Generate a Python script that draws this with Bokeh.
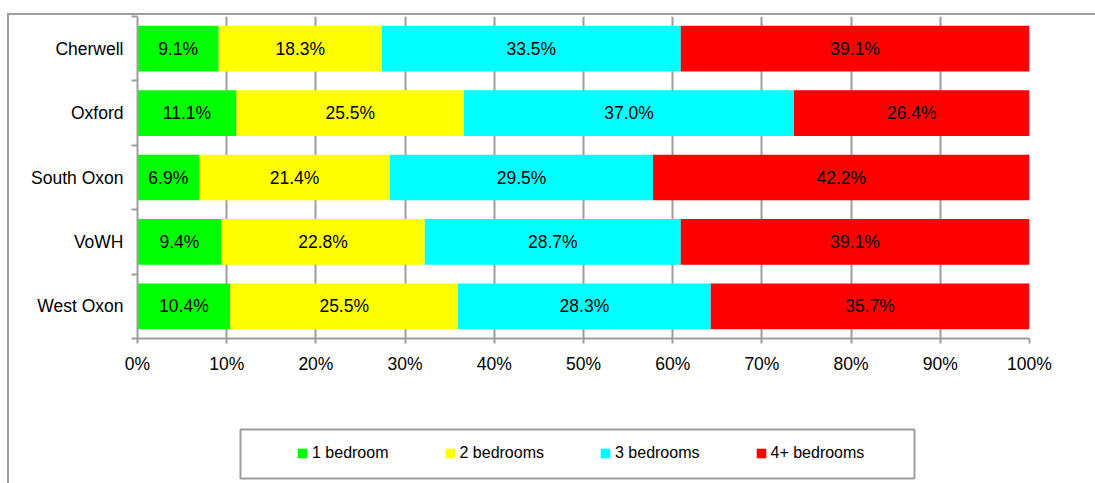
from bokeh.plotting import figure
from bokeh.layouts import column
from bokeh.models import (ColumnDataSource, Range1d, FixedTicker, Legend, LegendItem,
                          PrintfTickFormatter, BoxAnnotation)
from bokeh.core.properties import value
from bokeh.embed import file_html
from bokeh.resources import INLINE

# ---- data ----
areas = ["Cherwell", "Oxford", "South Oxon", "VoWH", "West Oxon"]
one_bed = [9.1, 11.1, 6.9, 9.4, 10.4]
two_bed = [18.3, 25.5, 21.4, 22.8, 25.5]
three_bed = [33.5, 37.0, 29.5, 28.7, 28.3]
four_bed = [39.1, 26.4, 42.2, 39.1, 35.7]
series_names = ["1 bedroom", "2 bedrooms", "3 bedrooms", "4+ bedrooms"]
series_colors = ["#00FF00", "#FFFF00", "#00FFFF", "#FF0000"]
x_ticks = [0, 10, 20, 30, 40, 50, 60, 70, 80, 90, 100]

FONT = "Liberation Sans"
FS = "17.5px"
GRAY = "#9d9d9d"

series = [one_bed, two_bed, three_bed, four_bed]
n = len(areas)
ypos = [n - i - 0.5 for i in range(n)]
totals = [sum(col) for col in zip(*series)]

data = {"y": ypos, "area": areas}
for name, vals in zip(series_names, series):
    data[name] = [v / t * 100 for v, t in zip(vals, totals)]
src = ColumnDataSource(data)

# label positions (segment centres)
lx, ly, lt = [], [], []
for i in range(n):
    start = 0.0
    for name, vals in zip(series_names, series):
        w = data[name][i]
        lx.append(start + w / 2)
        ly.append(ypos[i])
        lt.append(f"{vals[i]:.1f}%")
        start += w
lab_src = ColumnDataSource(dict(x=lx, y=ly, text=lt))

W = 1086
BL, BR = 128, 66
p = figure(width=W, height=400, output_backend="svg", toolbar_location=None,
           x_range=Range1d(0, 100), y_range=Range1d(0, n),
           min_border_left=BL, min_border_right=BR, min_border_top=1,
           min_border_bottom=77)
p.outline_line_color = None
p.background_fill_color = "white"
p.border_fill_color = "white"

renderers = p.hbar_stack(series_names, y="y", height=0.71, color=series_colors,
                         line_color=None, source=src)

p.text(x="x", y="y", text="text", source=lab_src, text_font=value(FONT),
       text_font_size=FS, text_align="center", text_baseline="middle",
       text_color="#000000")

# x axis
xa = p.xaxis[0]
xa.ticker = FixedTicker(ticks=x_ticks)
xa.formatter = PrintfTickFormatter(format="%d%%")
xa.axis_line_color = GRAY
xa.axis_line_width = 2
xa.major_tick_line_color = GRAY
xa.major_tick_line_width = 2
xa.major_tick_out = 5
xa.major_tick_in = 0
xa.minor_tick_line_color = None
xa.major_label_text_font = FONT
xa.major_label_text_font_size = FS
xa.major_label_text_color = "#000000"
xa.major_label_standoff = 10

# y axis
ya = p.yaxis[0]
ya.ticker = FixedTicker(ticks=ypos, minor_ticks=list(range(n + 1)))
ya.major_label_overrides = {float(y): a for y, a in zip(ypos, areas)}
ya.axis_line_color = GRAY
ya.axis_line_width = 2
ya.major_tick_line_color = None
ya.major_tick_out = 0
ya.major_tick_in = 0
ya.minor_tick_line_color = GRAY
ya.minor_tick_line_width = 2
ya.minor_tick_out = 6
ya.minor_tick_in = 0
ya.major_label_text_font = FONT
ya.major_label_text_font_size = FS
ya.major_label_text_color = "#000000"
ya.major_label_standoff = 8

p.ygrid.visible = False
p.xgrid.grid_line_color = GRAY
p.xgrid.grid_line_width = 2

# legend panel
lf = figure(width=W, height=68, output_backend="svg", toolbar_location=None,
            x_axis_location=None, y_axis_location=None,
            x_range=Range1d(0, 100), y_range=Range1d(0, 1),
            min_border_left=BL, min_border_right=BR, min_border_top=8,
            min_border_bottom=0)
lf.grid.visible = False
lf.outline_line_color = None
lf.background_fill_color = "white"
lf.border_fill_color = "white"
# zero-width key swatches (only used to draw the legend keys)
key_src = ColumnDataSource({"y": [0.5], **{nm: [0] for nm in series_names}})
key_renderers = lf.hbar_stack(series_names, y="y", height=0.71, color=series_colors,
                              line_color=None, source=key_src)

legend = Legend(items=[LegendItem(label=nm, renderers=[r]) for nm, r in zip(series_names, key_renderers)],
                orientation="horizontal", location="center_left",
                border_line_color=None, background_fill_alpha=0,
                padding=0, margin=159, spacing=55,
                glyph_width=12, glyph_height=12, label_standoff=4,
                label_text_font=FONT, label_text_font_size="16px",
                label_text_color="#000000")
lf.add_layout(legend, "center")
lf.add_layout(BoxAnnotation(left=231, right=905, top=14, bottom=63,
                            left_units="canvas", right_units="canvas",
                            top_units="canvas", bottom_units="canvas",
                            fill_alpha=0, line_color=GRAY, line_alpha=1.0, line_width=2))

root = column(p, lf, spacing=0,
              styles={"border-top": f"2px solid {GRAY}", "border-left": f"2px solid {GRAY}",
                      "margin-top": "13px", "margin-left": "7px"})

open("out.html", "w").write(file_html(root, INLINE))
